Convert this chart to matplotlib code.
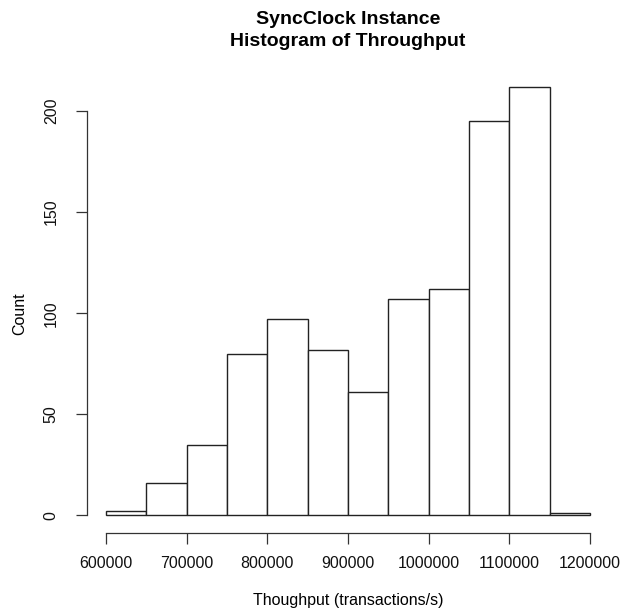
import matplotlib
matplotlib.use("Agg")
import matplotlib.pyplot as plt
import numpy as np

plt.rcParams['font.family'] = ['Liberation Sans', 'DejaVu Sans']

bin_edges = [600000, 650000, 700000, 750000, 800000, 850000, 900000,
             950000, 1000000, 1050000, 1100000, 1150000, 1200000]
counts = [2, 16, 35, 80, 97, 82, 61, 107, 112, 195, 212, 1]
x_ticks = [600000, 700000, 800000, 900000, 1000000, 1100000, 1200000]
y_ticks = [0, 50, 100, 150, 200]

W, H = 625, 614
fig = plt.figure(figsize=(W / 100, H / 100), dpi=100)
left, right, top, bottom = 86.6, 609.4, 69.6, 532.6
ax = fig.add_axes([left / W, 1 - bottom / H, (right - left) / W, (bottom - top) / H])

edges = np.array(bin_edges)
widths = np.diff(edges)
ax.bar(edges[:-1], counts, width=widths, align='edge', facecolor='white',
       edgecolor='#222222', linewidth=1.0)

xr = edges[-1] - edges[0]
ax.set_xlim(edges[0] - 0.04 * xr, edges[-1] + 0.04 * xr)
ymax = max(counts)
ax.set_ylim(-0.04 * ymax, ymax * 1.04)

for s in ['top', 'right']:
    ax.spines[s].set_visible(False)
ax.spines['left'].set_bounds(y_ticks[0], y_ticks[-1])
ax.spines['bottom'].set_bounds(x_ticks[0], x_ticks[-1])
for s in ['left', 'bottom']:
    ax.spines[s].set_color('#333333')
    ax.spines[s].set_linewidth(0.9)

ax.set_xticks(x_ticks)
ax.set_xticklabels([str(v) for v in x_ticks])
ax.set_yticks(y_ticks)
ax.set_yticklabels([str(v) for v in y_ticks], rotation=90, va='center')
ax.tick_params(axis='both', length=8, width=0.9, color='#333333',
               labelsize=11.5, labelcolor='#111111')
ax.tick_params(axis='x', pad=9)
ax.tick_params(axis='y', pad=12)

fig.text(348 / W, 1 - 20 / H, 'SyncClock Instance', ha='center', va='center',
         fontsize=14, fontweight='bold')
fig.text(348 / W, 1 - 42 / H, 'Histogram of Throughput', ha='center', va='center',
         fontsize=14, fontweight='bold')
fig.text(348 / W, 1 - 600 / H, 'Thoughput (transactions/s)', ha='center', va='center',
         fontsize=11.5)
fig.text(20 / W, 1 - 314 / H, 'Count', ha='center', va='center', rotation=90,
         fontsize=11.5)

fig.savefig('out.png', dpi=100)
